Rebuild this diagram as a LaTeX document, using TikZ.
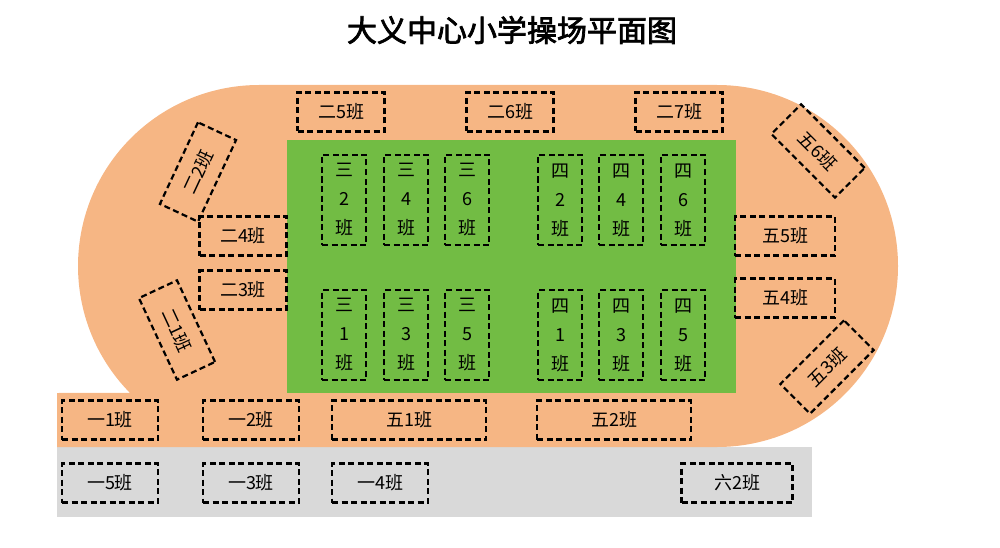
\documentclass[tikz,border=0pt]{standalone}
\usepackage{fontspec}
\usetikzlibrary{calc}
\setmainfont{Noto Sans CJK SC}
\newfontfamily\titlefont[FakeBold=2.5]{Noto Sans CJK SC}
\definecolor{track}{RGB}{246,182,132}
\definecolor{field}{RGB}{114,188,68}
\definecolor{yard}{RGB}{217,217,217}
\begin{document}
\begin{tikzpicture}[x=1pt,y=1pt,
  cls/.style={draw=black, line width=2.2pt, dash pattern=on 6pt off 3.5pt, minimum width=87pt, minimum height=39pt, inner sep=0pt, font=\fontsize{18}{20}\selectfont},
  wide/.style={cls, minimum width=154pt},
  vcls/.style={cls, minimum width=44pt, minimum height=90pt, align=center, font=\fontsize{18}{29}\selectfont},
  tilt/.style={cls, minimum width=90pt, minimum height=42pt}
]
\useasboundingbox (0,0) rectangle (1000,-548);
% ground
\fill[yard] (57,-447) rectangle (812,-517);
\fill[track] (57,-393) -- ($(259,-266)+(224.5:181)$) arc[start angle=224.5, end angle=90, radius=181] -- (717,-85) arc[start angle=90, end angle=-90, radius=181] -- (57,-447) -- cycle;
\fill[field] (287,-140) rectangle (736,-393);
\node[font=\titlefont\fontsize{30}{34}\selectfont] (title) at (512,-30) {大义中心小学操场平面图};
% track classes
\node[cls] (c25) at (341,-112) {二5班};
\node[cls] (c26) at (510,-112) {二6班};
\node[cls] (c27) at (679,-112) {二7班};
\node[cls] (c24) at (243,-236) {二4班};
\node[cls] (c23) at (243,-290) {二3班};
\node[tilt, rotate=65] (c22) at (198,-172) {二2班};
\node[tilt, rotate=-65] (c21) at (177,-330) {二1班};
\node[tilt, rotate=-45] (c56) at (818,-151) {五6班};
\node[tilt, rotate=45] (c53) at (827,-367) {五3班};
\node[cls, minimum width=100pt] (c55) at (785,-236) {五5班};
\node[cls, minimum width=100pt] (c54) at (785,-298) {五4班};
% field classes
\foreach \n/\x in {2/344,4/406,6/467} {
  \node[vcls] (s\n) at (\x,-200) {三\\\n\\班};
}
\foreach \n/\x in {1/344,3/406,5/467} {
  \node[vcls] (s\n) at (\x,-335) {三\\\n\\班};
}
\foreach \n/\x in {2/560,4/621,6/683} {
  \node[vcls] (f\n) at (\x,-200) {四\\\n\\班};
}
\foreach \n/\x in {1/560,3/621,5/683} {
  \node[vcls] (f\n) at (\x,-335) {四\\\n\\班};
}
% bottom rows
\node[cls, minimum width=96pt] (c11) at (110,-420) {一1班};
\node[cls, minimum width=96pt] (c12) at (251,-420) {一2班};
\node[wide] (c51) at (409,-420) {五1班};
\node[wide] (c52) at (614,-420) {五2班};
\node[cls, minimum width=96pt] (c15) at (110,-483) {一5班};
\node[cls, minimum width=96pt] (c13) at (251,-483) {一3班};
\node[cls, minimum width=96pt] (c14) at (380,-483) {一4班};
\node[cls, minimum width=111pt] (c62) at (737,-483) {六2班};
\end{tikzpicture}
\end{document}
